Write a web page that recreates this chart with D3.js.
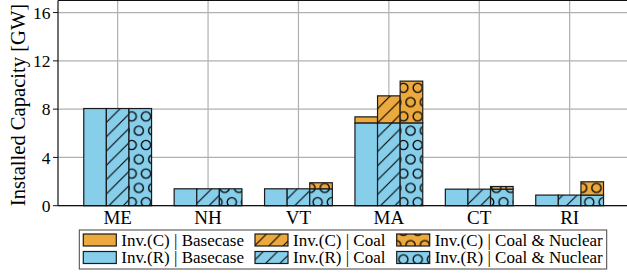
<!DOCTYPE html>
<html><head><meta charset="utf-8">
<script src="https://cdn.jsdelivr.net/npm/d3@7"></script>
<style>body{margin:0;background:#fff}svg{display:block}text{font-family:"Liberation Serif","Times New Roman",serif;fill:#000}</style>
</head><body><svg id="c" width="627" height="276"></svg>
<script>
const categories = ["ME","NH","VT","MA","CT","RI"];
const scenarios = ["Basecase","Coal","Coal & Nuclear"];
const invR_base = [8.05,1.40,1.40,6.86,1.37,0.88];
const invR_coal = [8.05,1.40,1.40,6.86,1.37,0.88];
const invR_cn   = [8.05,1.40,1.40,6.86,1.37,0.88];
const invC_base = [0,0,0,0.50,0,0];
const invC_coal = [0,0,0,2.24,0,0];
const invC_cn   = [0,0,0.50,3.46,0.22,1.10];
const yTicks = [0,4,8,12,16];
const yLabel = "Installed Capacity [GW]";
const legendLabels = [
  ["Inv.(C) | Basecase","Inv.(C) | Coal","Inv.(C) | Coal & Nuclear"],
  ["Inv.(R) | Basecase","Inv.(R) | Coal","Inv.(R) | Coal & Nuclear"]];

const BLUE="#87ceeb", ORANGE="#eba93e", EDGE="#1a1a1a";
const svg=d3.select("#c");
const L=58, B=205.7, T=0.5, R=629.3;
const x=d3.scaleLinear().domain([-0.66,5.66]).range([L,R]);
const y=d3.scaleLinear().domain([0,17]).range([B,T]);
const P=14.3;
const defs=svg.append("defs");
const ps=defs.append("pattern").attr("id","hs").attr("patternUnits","userSpaceOnUse").attr("width",P).attr("height",P);
ps.append("path").attr("d",`M0,${P} L${P},0 M-2,2 L2,-2 M${P-2},${P+2} L${P+2},${P-2}`).attr("stroke","#000").attr("stroke-width",1.1).attr("fill","none");
const pc=defs.append("pattern").attr("id","hc").attr("patternUnits","userSpaceOnUse").attr("width",P).attr("height",2*P)
  .attr("patternTransform","translate(3,2)");
[[0,0],[P,0],[0,2*P],[P,2*P],[P/2,P]].forEach(([cx,cy])=>pc.append("circle").attr("cx",cx).attr("cy",cy).attr("r",4.6).attr("fill","none").attr("stroke","#000").attr("stroke-width",1.3));
const hatchIds=[null,"hs","hc"];

// grid
const g=svg.append("g");
g.selectAll(".hg").data(yTicks).join("line").attr("x1",L).attr("x2",R).attr("y1",d=>y(d)).attr("y2",d=>y(d)).attr("stroke","#b0b0b0").attr("stroke-width",1.2);
g.selectAll(".vg").data(categories).join("line").attr("x1",(d,i)=>x(i)).attr("x2",(d,i)=>x(i)).attr("y1",T).attr("y2",B).attr("stroke","#b0b0b0").attr("stroke-width",1.2);

// bars
const Rs=[invR_base,invR_coal,invR_cn], Cs=[invC_base,invC_coal,invC_cn];
const w=0.25;
scenarios.forEach((s,k)=>{
  categories.forEach((c,i)=>{
    const x0=x(i+(k-1)*w-w/2), x1=x(i+(k-1)*w+w/2);
    const segs=[[0,Rs[k][i],BLUE],[Rs[k][i],Rs[k][i]+Cs[k][i],ORANGE]];
    segs.forEach(([a,b,col])=>{
      if(b-a<=0) return;
      const r=svg.append("g");
      r.append("rect").attr("x",x0).attr("y",y(b)).attr("width",x1-x0).attr("height",y(a)-y(b)).attr("fill",col);
      if(hatchIds[k]) r.append("rect").attr("x",x0).attr("y",y(b)).attr("width",x1-x0).attr("height",y(a)-y(b)).attr("fill",`url(#${hatchIds[k]})`);
      r.append("rect").attr("x",x0).attr("y",y(b)).attr("width",x1-x0).attr("height",y(a)-y(b)).attr("fill","none").attr("stroke",EDGE).attr("stroke-width",1.2);
    });
  });
});

// spines
svg.append("line").attr("x1",L).attr("x2",L).attr("y1",T).attr("y2",B).attr("stroke","#111").attr("stroke-width",1.2);
svg.append("line").attr("x1",L).attr("x2",R).attr("y1",B).attr("y2",B).attr("stroke","#111").attr("stroke-width",1.2);
svg.append("line").attr("x1",L).attr("x2",R).attr("y1",T).attr("y2",T).attr("stroke","#111").attr("stroke-width",1.2);

// y ticks
svg.selectAll(".yt").data(yTicks).join("line").attr("x1",L-5).attr("x2",L).attr("y1",d=>y(d)).attr("y2",d=>y(d)).attr("stroke","#111").attr("stroke-width",1);
svg.selectAll(".yl").data(yTicks).join("text").attr("x",L-7.5).attr("y",d=>y(d)).attr("dy","0.35em").attr("text-anchor","end").attr("font-size",17.5).text(d=>d);
svg.selectAll(".xl").data(categories).join("text").attr("x",(d,i)=>x(i)).attr("y",224).attr("text-anchor","middle").attr("font-size",19).text(d=>d);
svg.append("text").attr("transform",`translate(25,105) rotate(-90)`).attr("text-anchor","middle").attr("font-size",20.6).text(yLabel);

// legend
const lg=svg.append("g");
lg.append("rect").attr("x",79.3).attr("y",230).attr("width",527.4).attr("height",39).attr("fill","#fff").attr("stroke","#444").attr("stroke-width",1);
const colX=[83.3,255,396.7], rowY=[240,257.5], cols=[ORANGE,BLUE];
legendLabels.forEach((row,r)=>row.forEach((lab,k)=>{
  const px=colX[k], py=rowY[r]-6;
  lg.append("rect").attr("x",px).attr("y",py).attr("width",33).attr("height",12).attr("fill",cols[r]);
  if(hatchIds[k]) lg.append("rect").attr("x",px).attr("y",py).attr("width",33).attr("height",12).attr("fill",`url(#${hatchIds[k]})`);
  lg.append("rect").attr("x",px).attr("y",py).attr("width",33).attr("height",12).attr("fill","none").attr("stroke",EDGE).attr("stroke-width",1.2);
  lg.append("text").attr("x",px+38).attr("y",rowY[r]).attr("dy","0.35em").attr("font-size",17).text(lab);
}));
</script></body></html>
